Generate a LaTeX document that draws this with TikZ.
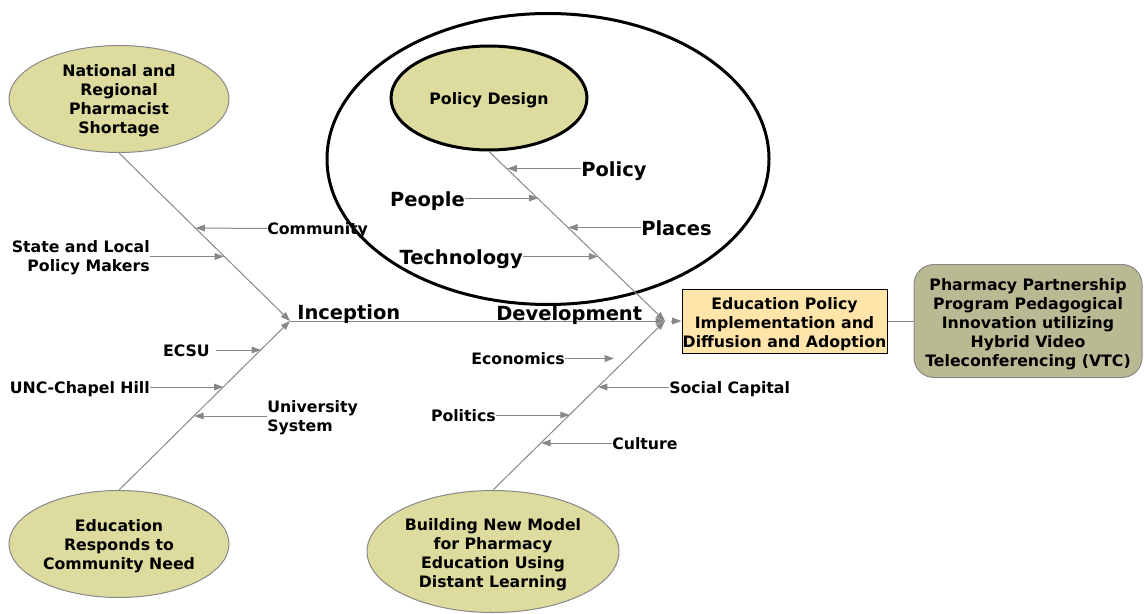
\documentclass[tikz,border=0pt]{standalone}
\usepackage{fontspec}
\setmainfont{DejaVu Sans}
\usetikzlibrary{shapes.geometric,arrows.meta}
\definecolor{olivefill}{RGB}{221,219,158}
\definecolor{boxfill}{RGB}{255,229,170}
\definecolor{rboxfill}{RGB}{185,185,148}
\definecolor{linegray}{RGB}{136,136,136}
\begin{document}
\begin{tikzpicture}[x=0.75pt,y=-0.75pt,
  font=\bfseries\fontsize{11.8}{14.2}\selectfont,
  arr/.style={draw=linegray, line width=0.75pt, -{Triangle[length=7pt,width=5pt]}},
  plain/.style={draw=linegray, line width=0.75pt},
  lbl/.style={inner sep=0pt, text height=8.6pt, text depth=0pt},
  lbltwo/.style={inner sep=0pt},
  blocktext/.style={inner sep=0pt, align=center},
  biglbl/.style={inner sep=0pt, font=\bfseries\fontsize{14.6}{17.5}\selectfont, text height=10.6pt, text depth=0pt},
  oval/.style={ellipse, draw=linegray, fill=olivefill, line width=0.75pt, inner sep=0pt},
  effectbox/.style={draw=black, fill=boxfill, line width=0.75pt, inner sep=0pt,
    minimum width=153.75pt, minimum height=48pt},
  outcomebox/.style={draw=linegray, fill=rboxfill, line width=0.75pt, inner sep=0pt,
    rounded corners=15pt, minimum width=171pt, minimum height=84.75pt},
]
\useasboundingbox (0,0) rectangle (1144,613);

% big enclosing ellipse
\node[ellipse, draw=black, line width=2.25pt, minimum width=331.5pt, minimum height=218.25pt, inner sep=0pt] (bigoval) at (548,159) {};

% cause ellipses
\node[oval, minimum width=165pt, minimum height=80.25pt] (nrps) at (119,99) {};
\node[blocktext] (nrpstext) at (119,101) {National and\\Regional\\Pharmacist\\Shortage};
\node[oval, minimum width=165pt, minimum height=80.25pt] (edu) at (119,544) {};
\node[blocktext] (edutext) at (119,546) {Education\\Responds to\\Community Need};
\node[oval, minimum width=189pt, minimum height=91.5pt] (bnm) at (493,551.5) {};
\node[blocktext] (bnmtext) at (493,554.5) {Building New Model\\for Pharmacy\\Education Using\\Distant Learning};
\node[oval, draw=black, line width=2.25pt, minimum width=147pt, minimum height=78pt] (pd) at (489,98) {};
\node[lbl] (pdtext) at (489,98.5) {Policy Design};

% effect boxes
\node[effectbox] (box) at (784.5,321) {};
\node[blocktext] (boxtext) at (784.5,324) {Education Policy\\Implementation and\\Diffusion and Adoption};
\node[outcomebox] (ppp) at (1028,321) {};
\node[blocktext] (ppptext) at (1028,324.5) {Pharmacy Partnership\\Program Pedagogical\\Innovation utilizing\\Hybrid Video\\Teleconferencing (VTC)};

% junctions
\coordinate (inc) at (290,321);
\coordinate (dev) at (665,321);
\coordinate (devout) at (671,321);

% bones
\draw[arr] (nrps.south) -- (inc);
\draw[arr] (edu.north) -- (inc);
\draw[arr] (inc) -- (dev);
\draw[arr] (pd.south) -- (dev);
\draw[arr] (bnm.north) -- (dev);
\draw[arr] (devout) -- (box.west);
\draw[plain] (box.east) -- (ppp.west);

% spine labels
\node[biglbl, anchor=base west, text height=, text depth=] (linc) at (297,319) {Inception};
\node[biglbl, anchor=base west, text height=, text depth=] (ldev) at (496,320) {Development};

% left upper
\coordinate (c1) at (195.6,228);
\coordinate (c2) at (224,256.5);
\node[lbl, anchor=west] (lcom) at (267,228.5) {Community};
\node[lbltwo, anchor=east, align=right] (lsl) at (150,258) {State and Local\\Policy Makers};
\draw[arr] (lcom.west) -- (c1);
\draw[arr] (lsl.east |- c2) -- (c2);

% left lower
\coordinate (c3) at (261,350);
\coordinate (c4) at (223.4,387);
\coordinate (c5) at (194.2,416);
\node[lbl, anchor=east] (lecsu) at (210,350.5) {ECSU};
\node[lbl, anchor=east] (lunc) at (150,387.5) {UNC-Chapel Hill};
\node[lbltwo, anchor=west, align=left] (luni) at (267,417.5) {University\\System};
\draw[arr] ([xshift=4.5pt]lecsu.east |- c3) -- (c3);
\draw[arr] (lunc.east |- c4) -- (c4);
\draw[arr] (luni.west |- c5) -- (c5);

% policy design bone
\coordinate (p1) at (507.5,168.5);
\coordinate (p2) at (538.4,198);
\coordinate (p3) at (568.2,227.5);
\coordinate (p4) at (598.1,256.5);
\node[biglbl, anchor=west] (lpolicy) at (581,169.5) {Policy};
\node[biglbl, anchor=east] (lpeople) at (465,199) {People};
\node[biglbl, anchor=west] (lplaces) at (641,228.5) {Places};
\node[biglbl, anchor=east] (ltech) at (523,257.5) {Technology};
\draw[arr] (lpolicy.west |- p1) -- (p1);
\draw[arr] (lpeople.east |- p2) -- (p2);
\draw[arr] (lplaces.west |- p3) -- (p3);
\draw[arr] (ltech.east |- p4) -- (p4);

% lower middle bone
\coordinate (b1) at (614,358.5);
\coordinate (b2) at (598.1,387);
\coordinate (b3) at (569.6,415);
\coordinate (b4) at (541.2,443);
\node[lbl, anchor=east] (lecon) at (565,359) {Economics};
\node[lbl, anchor=west] (lsoc) at (669,387.5) {Social Capital};
\node[lbl, anchor=east] (lpol) at (496,415.5) {Politics};
\node[lbl, anchor=west] (lcul) at (612,443.5) {Culture};
\draw[arr] (lecon.east |- b1) -- (b1);
\draw[arr] (lsoc.west |- b2) -- (b2);
\draw[arr] (lpol.east |- b3) -- (b3);
\draw[arr] (lcul.west |- b4) -- (b4);
\end{tikzpicture}
\end{document}
